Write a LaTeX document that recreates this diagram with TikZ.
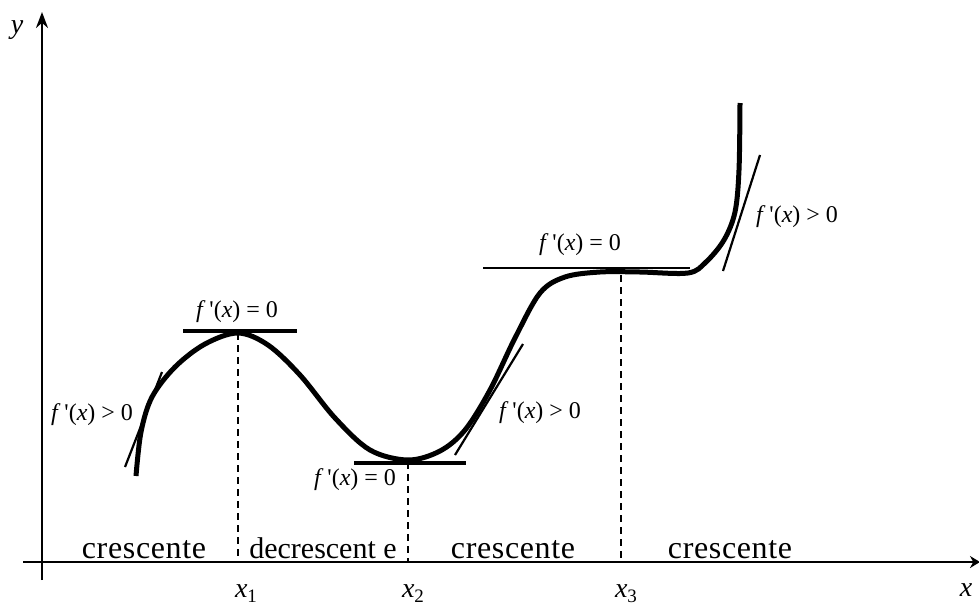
\documentclass[tikz,border=0pt]{standalone}
\usepackage{fontspec}
\setmainfont{Liberation Serif}
\newfontfamily\spacedfont[LetterSpace=2]{Liberation Serif}
\usetikzlibrary{arrows.meta}
\newcommand{\fp}[1]{\textit{f}\,\textquotesingle(\textit{x}) #1 0}
\begin{document}
\begin{tikzpicture}[x=1pt,y=-1pt,
  axis/.style={line width=2.4pt},
  curve/.style={line width=5pt,line join=round},
  tang/.style={line width=2.2pt},
  htang/.style={line width=3.2pt},
  guide/.style={line width=1.6pt,dash pattern=on 7pt off 5pt},
  lbl/.style={font=\fontsize{24}{26}\selectfont,inner sep=0pt},
  region/.style={font=\fontsize{30}{34}\selectfont,inner sep=0pt,anchor=base},
  cres/.style={region,font=\fontsize{32}{34}\spacedfont},
  tick/.style={font=\fontsize{28}{30}\selectfont,inner sep=0pt}]
\useasboundingbox (0,0) rectangle (979,608);
% axes
\coordinate (ystart) at (42,580);
\coordinate (yend) at (42,12);
\coordinate (xstart) at (23,562);
\coordinate (xend) at (980,562);
\draw[axis,-{Stealth[length=16pt,width=12pt]}] (ystart) -- (yend);
\draw[axis,-{Stealth[length=10pt,width=12pt]}] (xstart) -- (xend);
\node[font=\fontsize{28}{30}\selectfont\itshape] (ylab) at (17,30) {y};
\node[font=\fontsize{28}{30}\selectfont\itshape] (xlab) at (966,590) {x};
% guides
\coordinate (g1t) at (238,333); \coordinate (g1b) at (238,562);
\coordinate (g2t) at (408,462); \coordinate (g2b) at (408,562);
\coordinate (g3t) at (621,275); \coordinate (g3b) at (621,562);
\draw[guide] (g1t) -- (g1b);
\draw[guide] (g2t) -- (g2b);
\draw[guide] (g3t) -- (g3b);
% tangents
\coordinate (t1a) at (125,467); \coordinate (t1b) at (162,372);
\coordinate (t2a) at (183,331); \coordinate (t2b) at (297,331);
\coordinate (t3a) at (354,463); \coordinate (t3b) at (466,463);
\coordinate (t4a) at (455,455); \coordinate (t4b) at (523,344);
\coordinate (t5a) at (483,268); \coordinate (t5b) at (690,268);
\coordinate (t6a) at (723,271); \coordinate (t6b) at (760,155);
\draw[tang] (t1a) -- (t1b);
\draw[htang] (t2a) -- (t2b);
\draw[htang] (t3a) -- (t3b);
\draw[tang] (t4a) -- (t4b);
\draw[tang] (t5a) -- (t5b);
\draw[tang] (t6a) -- (t6b);
% curve
\draw[curve] plot[smooth,tension=0.55] coordinates {
 (136,476) (141,432) (152,397) (175,367) (205,344) (238,333)
 (268,345) (300,375) (335,418) (370,450) (408,460)
 (440,451) (465,430) (490,390) (515,338) (540,293) (565,277)
 (600,272) (640,272) (688,273) (706,262) (724,240) (735,212)
 (739,170) (740,103)};
% labels
\node[lbl] (l1) at (92,415) {\fp{>}};
\node[lbl] (l2) at (237,312) {\fp{=}};
\node[lbl] (l3) at (355,480) {\fp{=}};
\node[lbl] (l4) at (540,413) {\fp{>}};
\node[lbl] (l5) at (580,245) {\fp{=}};
\node[lbl] (l6) at (797,217) {\fp{>}};
% regions
\node[cres] (r1) at (144,558) {crescente};
\node[region] (r2) at (323,558) {decrescent e};
\node[cres] (r3) at (513,558) {crescente};
\node[cres] (r4) at (730,558) {crescente};
% ticks
\node[tick] (x1) at (246,594) {\textit{x}\raisebox{-5pt}{\fontsize{19}{20}\selectfont 1}};
\node[tick] (x2) at (413,594) {\textit{x}\raisebox{-5pt}{\fontsize{19}{20}\selectfont 2}};
\node[tick] (x3) at (626,594) {\textit{x}\raisebox{-5pt}{\fontsize{19}{20}\selectfont 3}};
\end{tikzpicture}
\end{document}
